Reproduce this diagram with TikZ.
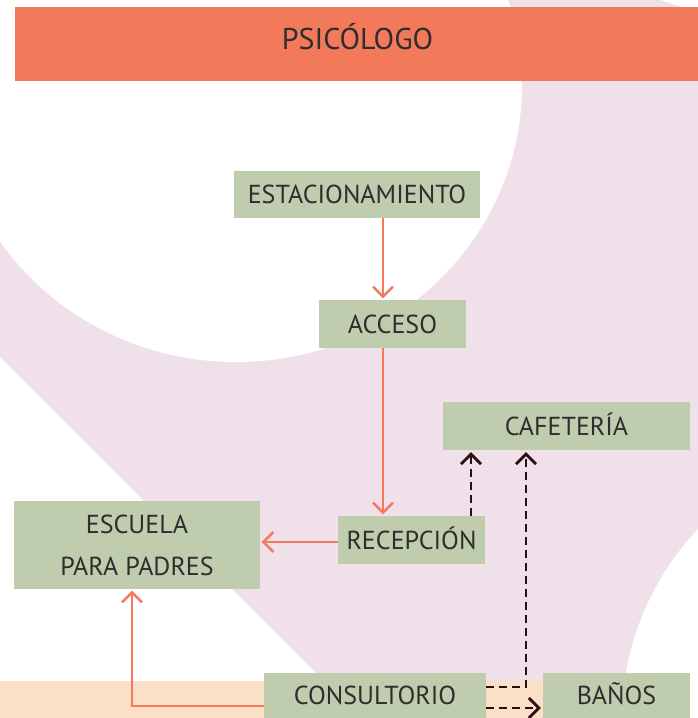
\documentclass[tikz,border=0pt]{standalone}
\usepackage{fontspec}
\setmainfont{PT Sans}
\usetikzlibrary{arrows.meta,calc}
\definecolor{bgpink}{HTML}{F0E0EA}
\definecolor{titleor}{HTML}{F27A5B}
\definecolor{boxgreen}{HTML}{BFCCAE}
\definecolor{peach}{HTML}{FBDFC6}
\definecolor{arrowor}{HTML}{F47A5A}
\definecolor{dashdark}{HTML}{2B0E10}
\definecolor{txt}{HTML}{2E2E2E}
\begin{document}
\begin{tikzpicture}[x=1pt,y=-1pt,
  box/.style={fill=boxgreen, inner sep=0pt, text=txt, font=\fontsize{26}{30}\selectfont, text height=18.2pt, text depth=0pt},
  flow/.style={draw=arrowor, line width=2.4pt, shorten >=1.5pt, -{Straight Barb[length=10pt,width=20pt]}},
  dflow/.style={draw=dashdark, line width=2.8pt, dash pattern=on 8pt off 5pt, shorten >=2pt, -{Straight Barb[length=10pt,width=20pt]}}]
\useasboundingbox (0,0) rectangle (698,718);
% background
\fill[bgpink] (0,0) rectangle (698,718);
\fill[white] (236,85) ellipse [x radius=286pt, y radius=277pt];
\fill[white] (0,357) -- (361,718) -- (0,718) -- cycle;
\fill[white] (900,720) circle [radius=278pt];
\fill[white] (660,0) -- (698,0) -- (698,12) -- cycle;
\fill[peach] (0,681) rectangle (690,718);
% title
\node[fill=titleor, minimum width=683pt, minimum height=74pt, inner sep=0pt] (titlebar) at (356.5,44) {};
\node[inner sep=0pt, text=txt, font=\fontsize{30}{36}\selectfont, text height=21pt, text depth=0pt] (titletext) at (357.5,38.7) {PSICÓLOGO};
% boxes
\node[box, minimum width=246pt, minimum height=47pt] (est) at (357,194.5) {ESTACIONAMIENTO};
\node[box, minimum width=147pt, minimum height=48pt] (acceso) at (392.5,324) {ACCESO};
\node[box, minimum width=247pt, minimum height=48pt] (cafe) at (566.5,426) {CAFETERÍA};
\node[box, minimum width=147pt, minimum height=48pt] (recep) at (411.5,540) {RECEPCIÓN};
\node[fill=boxgreen, inner sep=0pt, text=txt, font=\fontsize{26}{42}\selectfont, align=center, minimum width=246pt, minimum height=88pt] (esc) at (137,545) {ESCUELA\\PARA PADRES};
\node[box, minimum width=222pt, minimum height=45pt] (cons) at (375,695.5) {CONSULTORIO};
\node[box, minimum width=147pt, minimum height=45pt] (banos) at (616.5,695.5) {BAÑOS};
% helper coordinates
\coordinate (colA) at (383,0);
\coordinate (colB) at (132,0);
\coordinate (colC) at (471,0);
\coordinate (colD) at (526,0);
\coordinate (rowA) at (0,706);
\coordinate (rowB) at (0,687);
\coordinate (rowC) at (0,708);
\coordinate (rowE) at (0,542);
% connectors
\draw[flow] (est.south -| colA) -- (acceso.north -| colA);
\draw[flow] (acceso.south -| colA) -- (recep.north -| colA);
\draw[flow] (recep.west |- rowE) -- (esc.east |- rowE);
\draw[flow] (cons.west |- rowA) -| (esc.south -| colB);
\draw[dflow] (recep.north -| colC) -- (cafe.south -| colC);
\draw[dflow] (cons.east |- rowB) -| (cafe.south -| colD);
\draw[dflow] (cons.east |- rowC) -- (banos.west |- rowC);
\end{tikzpicture}
\end{document}
